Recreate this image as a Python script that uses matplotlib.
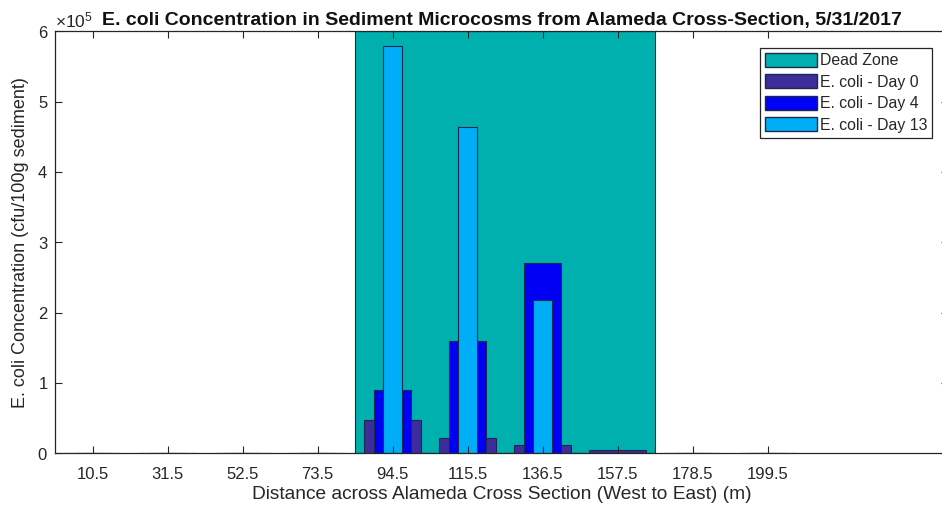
import matplotlib
matplotlib.use("Agg")
import matplotlib.pyplot as plt
from matplotlib.ticker import ScalarFormatter
from matplotlib.patches import Patch

plt.rcParams['font.family'] = ['Liberation Sans', 'DejaVu Sans']
plt.rcParams['mathtext.fontset'] = 'custom'
plt.rcParams['mathtext.rm'] = 'Liberation Sans'
plt.rcParams['mathtext.it'] = 'Liberation Sans:italic'

# Sampling positions across the cross-section (m)
distance = [10.5, 31.5, 52.5, 73.5, 94.5, 115.5, 136.5, 157.5, 178.5, 199.5]
tick_labels = ["10.5", "31.5", "52.5", "73.5", "94.5", "115.5", "136.5", "157.5", "178.5", "199.5"]

# E. coli concentration (cfu/100g sediment)
day0 = [0, 0, 0, 0, 47000, 22000, 11500, 4500, 0, 0]
day4 = [0, 0, 0, 0, 89000, 159000, 270000, 0, 0, 0]
day13 = [0, 0, 0, 0, 580000, 464500, 218000, 0, 0, 0]

# Dead zone extent (m) and plotted height
dead_zone_start = 84
dead_zone_end = 168
dead_zone_height = 600000

spacing = 21.0
c_dead = '#00B0AE'
c_d0 = '#3C2C9C'
c_d4 = '#0000F5'
c_d13 = '#00AEF8'
edge = '#1B2A48'
axis_col = '#262626'

fig = plt.figure(figsize=(9.42, 5.12), dpi=100)
ax = fig.add_axes([0.0584, 0.1152, 0.948, 0.8233])

ax.bar((dead_zone_start + dead_zone_end) / 2, dead_zone_height,
       width=dead_zone_end - dead_zone_start, color=c_dead,
       edgecolor=edge, linewidth=0.8, zorder=1)
ax.bar(distance, day0, width=0.75 * spacing, color=c_d0, edgecolor=edge, linewidth=0.8, zorder=1.1)
ax.bar(distance, day4, width=0.5 * spacing, color=c_d4, edgecolor=edge, linewidth=0.8, zorder=1.2)
ax.bar(distance, day13, width=0.25 * spacing, color=c_d13, edgecolor=edge, linewidth=0.8, zorder=1.3)

ax.set_xlim(0, 250)
ax.set_ylim(0, 600000)
ax.set_xticks(distance)
ax.set_xticklabels(tick_labels)
ax.set_yticks([0, 100000, 200000, 300000, 400000, 500000, 600000])

fmt = ScalarFormatter(useMathText=True)
fmt.set_powerlimits((0, 0))
ax.yaxis.set_major_formatter(fmt)
ax.yaxis.get_offset_text().set_fontsize(12.5)
ax.yaxis.get_offset_text().set_color(axis_col)

ax.tick_params(direction='in', length=5, width=0.8, top=True, right=True,
               labelsize=12, colors=axis_col)
ax.tick_params(axis='x', pad=10)
ax.tick_params(axis='y', pad=5)
for s in ax.spines.values():
    s.set_color(axis_col)
    s.set_linewidth(0.9)

ax.set_xlabel("Distance across Alameda Cross Section (West to East) (m)",
              fontsize=13.8, color=axis_col, labelpad=3)
ax.set_ylabel("E. coli Concentration (cfu/100g sediment)",
              fontsize=13, color=axis_col, labelpad=6)
ax.set_title("E. coli Concentration in Sediment Microcosms from Alameda Cross-Section, 5/31/2017",
             fontsize=14, fontweight='bold', color='#111111', pad=5)

handles = [Patch(facecolor=c_dead, edgecolor=edge, label='Dead Zone'),
           Patch(facecolor=c_d0, edgecolor=edge, label='E. coli - Day 0'),
           Patch(facecolor=c_d4, edgecolor=edge, label='E. coli - Day 4'),
           Patch(facecolor=c_d13, edgecolor=edge, label='E. coli - Day 13')]
leg = ax.legend(handles=handles, loc='upper right', bbox_to_anchor=(0.982, 0.961),
                borderaxespad=0, fontsize=11.4, handlelength=3.3, handleheight=1.0,
                handletextpad=0.15, labelspacing=0.38, borderpad=0.3,
                fancybox=False, framealpha=1, edgecolor=axis_col)
leg.get_frame().set_linewidth(0.9)
for t in leg.get_texts():
    t.set_color(axis_col)

fig.savefig("out.png", dpi=100)
